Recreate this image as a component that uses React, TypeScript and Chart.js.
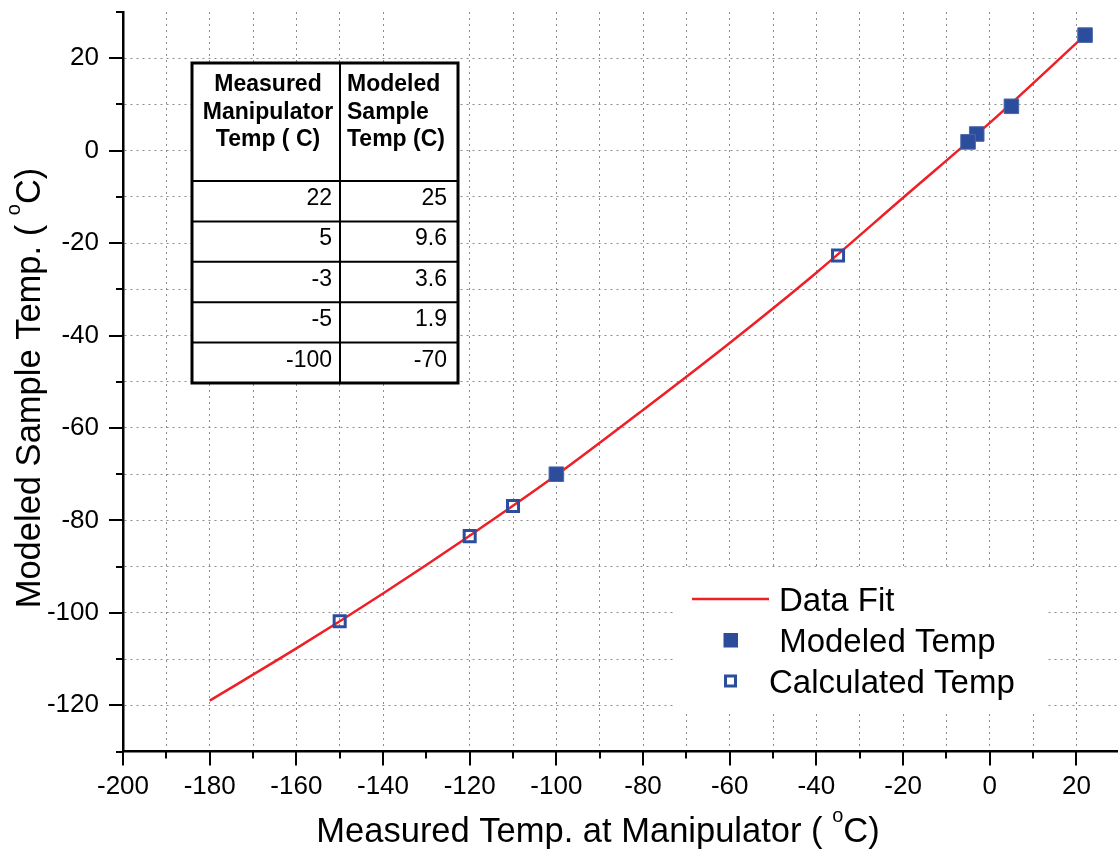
import { useEffect, useRef } from 'react';
import { Chart, registerables } from 'chart.js';

Chart.register(...registerables);

const FONT = "'Liberation Sans', Arial, Helvetica, sans-serif";

// Red fitted curve, sampled along its trace
const fitManip = [-180, -160, -140, -120, -100, -80, -60, -40, -20, 0, 22];
const fitSample = [-119, -107.7, -95.8, -83.3, -70.2, -56.1, -41.6, -26.4, -10.2, 6.0, 25.0];

// Modeled points (also listed in the inset table)
const modeledManip = [22, 5, -3, -5, -100];
const modeledSample = [25, 9.6, 3.6, 1.9, -70];

// Calculated points
const calcManip = [-150, -120, -110, -35];
const calcSample = [-101.8, -83.4, -76.9, -22.7];

// Axis ticks
const xMajorTicks = [-200, -180, -160, -140, -120, -100, -80, -60, -40, -20, 0, 20];
const xMinorTicks = [-190, -170, -150, -130, -110, -90, -70, -50, -30, -10, 10];
const yMajorTicks = [-120, -100, -80, -60, -40, -20, 0, 20];
const yMinorTicks = [-130, -110, -90, -70, -50, -30, -10, 10, 30];

// Inset table headings
const headManip = ['Measured', 'Manipulator', 'Temp ( C)'];
const headSample = ['Modeled', 'Sample', 'Temp (C)'];

const legendLabels = ['Data Fit', ' Modeled Temp', 'Calculated Temp'];

const RED = '#ee1f26';
const BLUE = '#2c4c9c';

function drawSupTitle(ctx: CanvasRenderingContext2D, cx: number, base: number, pre: string, post: string) {
  const big = `34.5px ${FONT}`;
  const small = `20px ${FONT}`;
  ctx.font = big;
  const w1 = ctx.measureText(pre).width;
  const w3 = ctx.measureText(post).width;
  ctx.font = small;
  const w2 = ctx.measureText('o').width;
  let xPos = cx - (w1 + w2 + w3) / 2;
  ctx.fillStyle = '#000';
  ctx.textAlign = 'left';
  ctx.textBaseline = 'alphabetic';
  ctx.font = big;
  ctx.fillText(pre, xPos, base);
  xPos += w1;
  ctx.font = small;
  ctx.fillText('o', xPos, base - 20);
  xPos += w2;
  ctx.font = big;
  ctx.fillText(post, xPos, base);
}

const overlay = {
  id: 'overlay',
  afterDraw(chart: any) {
    const { ctx, chartArea: a } = chart;
    const xs = chart.scales.x;
    const ys = chart.scales.y;
    ctx.save();

    // tick marks, outward
    ctx.strokeStyle = '#000';
    ctx.lineWidth = 2;
    const xMark = (v: number, len: number) => {
      const p = Math.round(xs.getPixelForValue(v));
      ctx.beginPath();
      ctx.moveTo(p, a.bottom);
      ctx.lineTo(p, a.bottom + len);
      ctx.stroke();
    };
    const yMark = (v: number, len: number) => {
      const p = Math.round(ys.getPixelForValue(v));
      ctx.beginPath();
      ctx.moveTo(a.left, p);
      ctx.lineTo(a.left - len, p);
      ctx.stroke();
    };
    xMajorTicks.forEach((v) => xMark(v, 14));
    xMinorTicks.forEach((v) => xMark(v, 7));
    yMajorTicks.forEach((v) => yMark(v, 14));
    yMinorTicks.forEach((v) => yMark(v, 7));

    // axis titles
    drawSupTitle(ctx, 598, 842, 'Measured Temp. at Manipulator ( ', 'C)');
    ctx.save();
    ctx.translate(40, 388);
    ctx.rotate(-Math.PI / 2);
    drawSupTitle(ctx, 0, 0, 'Modeled Sample Temp. ( ', 'C)');
    ctx.restore();

    // inset table
    const tL = 192, tR = 458, tT = 63, tB = 383, tMid = 340, headB = 181, rowH = 40.4;
    ctx.fillStyle = '#fff';
    ctx.fillRect(tL, tT, tR - tL, tB - tT);
    ctx.strokeStyle = '#000';
    ctx.lineWidth = 2;
    ctx.beginPath();
    ctx.moveTo(tMid, tT);
    ctx.lineTo(tMid, tB);
    for (let i = 0; i < modeledManip.length; i++) {
      const yy = headB + i * rowH;
      ctx.moveTo(tL, yy);
      ctx.lineTo(tR, yy);
    }
    ctx.stroke();
    ctx.lineWidth = 3;
    ctx.strokeRect(tL, tT, tR - tL, tB - tT);

    ctx.fillStyle = '#000';
    ctx.textBaseline = 'alphabetic';
    ctx.font = `bold 23px ${FONT}`;
    headManip.forEach((t, i) => {
      ctx.textAlign = 'center';
      ctx.fillText(t, 268, 91 + i * 27.5);
    });
    headSample.forEach((t, i) => {
      ctx.textAlign = 'left';
      ctx.fillText(t, 347, 91 + i * 27.5);
    });
    ctx.font = `23px ${FONT}`;
    ctx.textAlign = 'right';
    modeledManip.forEach((v, i) => {
      ctx.fillText(String(v), 332, headB + 24 + i * rowH);
    });
    modeledSample.forEach((v, i) => {
      ctx.fillText(String(v), 447, headB + 24 + i * rowH);
    });

    // legend
    ctx.fillStyle = '#fff';
    ctx.fillRect(673, 569, 372, 143);
    ctx.strokeStyle = RED;
    ctx.lineWidth = 2.5;
    ctx.beginPath();
    ctx.moveTo(692, 599);
    ctx.lineTo(769, 599);
    ctx.stroke();
    ctx.fillStyle = BLUE;
    ctx.fillRect(723.5, 633, 14.5, 14.5);
    ctx.strokeStyle = BLUE;
    ctx.lineWidth = 3;
    ctx.strokeRect(725.5, 676, 10, 10);
    ctx.fillStyle = '#000';
    ctx.textAlign = 'left';
    ctx.font = `33px ${FONT}`;
    ctx.fillText(legendLabels[0], 779, 611);
    ctx.fillText(legendLabels[1], 770, 652);
    ctx.fillText(legendLabels[2], 769, 693);

    ctx.restore();
  },
};

export default function App() {
  const ref = useRef<HTMLCanvasElement>(null);

  useEffect(() => {
    const gridColor = (c: any) =>
      c.tick && (c.tick.value === 30 || c.tick.value === -130) ? 'rgba(0,0,0,0)' : '#8c8c8c';

    const chart = new Chart(ref.current as HTMLCanvasElement, {
      type: 'scatter',
      data: {
        datasets: [
          {
            label: legendLabels[1],
            data: modeledManip.map((v, i) => ({ x: v, y: modeledSample[i] })),
            pointStyle: 'rect',
            pointRadius: 10.3,
            backgroundColor: BLUE,
            borderColor: '#4a66ac',
            borderWidth: 1,
            order: 0,
          },
          {
            label: legendLabels[2],
            data: calcManip.map((v, i) => ({ x: v, y: calcSample[i] })),
            pointStyle: 'rect',
            pointRadius: 7.8,
            backgroundColor: 'rgba(0,0,0,0)',
            borderColor: BLUE,
            borderWidth: 3,
            order: 1,
          },
          {
            label: legendLabels[0],
            data: fitManip.map((v, i) => ({ x: v, y: fitSample[i] })),
            showLine: true,
            borderColor: RED,
            borderWidth: 2.5,
            pointRadius: 0,
            cubicInterpolationMode: 'monotone',
            order: 2,
          } as any,
        ],
      },
      options: {
        animation: false,
        responsive: false,
        events: [],
        layout: { autoPadding: false, padding: { top: 12, right: 0, left: 0, bottom: 0 } },
        plugins: { legend: { display: false }, tooltip: { enabled: false } },
        scales: {
          x: {
            type: 'linear',
            min: -200,
            max: 29.6,
            afterBuildTicks: (s: any) => {
              s.ticks = [...xMajorTicks, ...xMinorTicks].sort((p, q) => p - q).map((v) => ({ value: v }));
            },
            afterFit: (s: any) => {
              s.height = 100.5;
              s.paddingLeft = 0;
              s.paddingRight = 0;
            },
            ticks: {
              autoSkip: false,
              maxRotation: 0,
              padding: 20,
              color: '#000',
              font: { family: FONT, size: 26 },
              callback: (v: any) => (xMajorTicks.includes(v) ? String(v) : ''),
            },
            grid: { color: gridColor, lineWidth: 1, drawTicks: false },
            border: { display: true, color: '#000', width: 2.5, dash: [2, 4] },
          },
          y: {
            type: 'linear',
            min: -130,
            max: 30,
            afterBuildTicks: (s: any) => {
              s.ticks = [...yMajorTicks, ...yMinorTicks].sort((p, q) => p - q).map((v) => ({ value: v }));
            },
            afterFit: (s: any) => {
              s.width = 123;
              s.paddingTop = 0;
              s.paddingBottom = 0;
            },
            ticks: {
              autoSkip: false,
              padding: 24,
              color: '#000',
              font: { family: FONT, size: 26 },
              callback: (v: any) => (yMajorTicks.includes(v) ? String(v) : ''),
            },
            grid: { color: gridColor, lineWidth: 1, drawTicks: false },
            border: { display: true, color: '#000', width: 2.5, dash: [2, 4] },
          },
        },
      },
      plugins: [overlay],
    });
    return () => chart.destroy();
  }, []);

  return (
    <div style={{ position: 'absolute', left: 0, top: 0, width: 1118, height: 852, background: '#fff' }}>
      <canvas ref={ref} width={1118} height={852} style={{ display: 'block' }} />
    </div>
  );
}
